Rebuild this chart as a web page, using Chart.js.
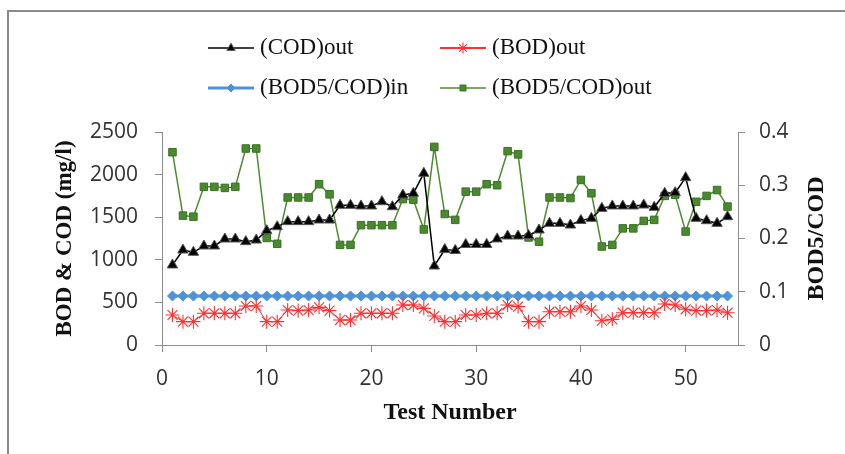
<!DOCTYPE html>
<html>
<head>
<meta charset="utf-8">
<script src="https://cdn.jsdelivr.net/npm/chart.js@4.4.1/dist/chart.umd.min.js"></script>
<style>
  html, body { margin: 0; padding: 0; background: #fff; }
  #wrap { width: 845px; height: 454px; }
</style>
</head>
<body>
<div id="wrap"><canvas id="grafica" width="845" height="454"></canvas></div>
<script>
// datos
const testNumber = [1, 2, 3, 4, 5, 6, 7, 8, 9, 10, 11, 12, 13, 14, 15, 16, 17, 18, 19, 20,
  21, 22, 23, 24, 25, 26, 27, 28, 29, 30, 31, 32, 33, 34, 35, 36, 37, 38, 39, 40,
  41, 42, 43, 44, 45, 46, 47, 48, 49, 50, 51, 52, 53, 54];

const codOut = [939, 1115, 1088, 1162, 1162, 1244, 1244, 1213, 1232, 1342, 1389, 1448, 1448, 1448, 1467, 1467, 1640, 1640, 1632, 1632,
  1682, 1623, 1760, 1780, 2015, 927, 1120, 1110, 1180, 1180, 1180, 1245, 1279, 1279, 1285, 1350, 1428, 1428, 1408, 1462,
  1487, 1604, 1632, 1632, 1632, 1643, 1616, 1780, 1787, 1964, 1487, 1459, 1428, 1506];

const bodOut = [352, 274, 274, 372, 372, 372, 372, 458, 458, 274, 274, 411, 404, 411, 442, 404, 293, 293, 372, 372,
  372, 372, 469, 469, 430, 340, 274, 274, 352, 352, 372, 372, 469, 450, 274, 274, 391, 391, 391, 458,
  411, 285, 301, 379, 379, 379, 379, 481, 469, 419, 404, 404, 411, 379];

const ratioIn = [0.092, 0.092, 0.092, 0.092, 0.092, 0.092, 0.092, 0.092, 0.092, 0.092, 0.092, 0.092, 0.092, 0.092, 0.092, 0.092, 0.092, 0.092, 0.092, 0.092,
  0.092, 0.092, 0.092, 0.092, 0.092, 0.092, 0.092, 0.092, 0.092, 0.092, 0.092, 0.092, 0.092, 0.092, 0.092, 0.092, 0.092, 0.092, 0.092, 0.092,
  0.092, 0.092, 0.092, 0.092, 0.092, 0.092, 0.092, 0.092, 0.092, 0.092, 0.092, 0.092, 0.092, 0.092];

const ratioOut = [0.362, 0.243, 0.241, 0.297, 0.297, 0.295, 0.297, 0.369, 0.369, 0.201, 0.19, 0.277, 0.277, 0.277, 0.302, 0.283, 0.188, 0.188, 0.225, 0.225,
  0.225, 0.225, 0.274, 0.273, 0.217, 0.372, 0.246, 0.235, 0.288, 0.288, 0.302, 0.3, 0.364, 0.358, 0.202, 0.194, 0.277, 0.277, 0.276, 0.31,
  0.285, 0.185, 0.188, 0.219, 0.219, 0.233, 0.235, 0.28, 0.282, 0.213, 0.269, 0.28, 0.291, 0.26];

const leftTicks = [0, 500, 1000, 1500, 2000, 2500];
const rightTicks = [0, 0.1, 0.2, 0.3, 0.4];
const xTicks = [0, 10, 20, 30, 40, 50];

const xy = (ys) => testNumber.map((t, i) => ({ x: t, y: ys[i] }));

const axisGray = '#8c8c8c';
const tickFont = { family: 'Open Sans', size: 21 };
const titleFont = { family: 'Liberation Serif', size: 24, weight: 'bold' };

const series = [
  { label: '(COD)out', data: xy(codOut), yAxisID: 'y', borderColor: '#000000', backgroundColor: '#000000',
    pointBorderColor: '#555555', pointStyle: 'triangle', pointRadius: 6, pointBorderWidth: 1, borderWidth: 1.5 },
  { label: '(BOD)out', data: xy(bodOut), yAxisID: 'y', borderColor: '#ff3030', backgroundColor: '#ff3030',
    pointStyle: 'star', pointRadius: 7, pointBorderWidth: 1.1, borderWidth: 1 },
  { label: '(BOD5/COD)in', data: xy(ratioIn), yAxisID: 'y1', borderColor: '#4f93d6', backgroundColor: '#4f93d6',
    pointStyle: 'rectRot', pointRadius: 5, pointBorderWidth: 1, borderWidth: 3 },
  { label: '(BOD5/COD)out', data: xy(ratioOut), yAxisID: 'y1', borderColor: '#4c8c30', backgroundColor: '#4a8a2e',
    pointBorderColor: '#3a7024', pointStyle: 'rect', pointRadius: 5.3, pointBorderWidth: 1, borderWidth: 1.5 }
];

// leyenda en dos filas y título del eje derecho (leído de abajo hacia arriba)
const legendPlugin = {
  id: 'leyenda',
  afterDraw(chart) {
    const ctx = chart.ctx;
    const spots = [[208, 48], [440, 48], [208, 88], [440, 88]];
    chart.data.datasets.forEach((ds, i) => {
      const [x, y] = spots[i];
      ctx.save();
      ctx.strokeStyle = ds.borderColor;
      ctx.lineWidth = ds.pointStyle === 'star' ? 2 : ds.borderWidth;
      ctx.beginPath();
      ctx.moveTo(x, y);
      ctx.lineTo(x + 46, y);
      ctx.stroke();
      ctx.fillStyle = ds.backgroundColor;
      ctx.strokeStyle = ds.pointBorderColor || ds.borderColor;
      ctx.lineWidth = ds.pointBorderWidth;
      Chart.helpers.drawPoint(ctx, { pointStyle: ds.pointStyle, radius: ds.pointRadius * 0.8, rotation: 0, borderWidth: ds.pointBorderWidth }, x + 23, y);
      ctx.fillStyle = '#111';
      ctx.font = '23px "Liberation Serif"';
      ctx.textBaseline = 'middle';
      ctx.textAlign = 'left';
      ctx.fillText(ds.label, x + 52, y);
      ctx.restore();
    });

    const area = chart.chartArea;
    ctx.save();
    ctx.translate(817, (area.top + area.bottom) / 2);
    ctx.rotate(-Math.PI / 2);
    ctx.fillStyle = '#111';
    ctx.font = 'bold 24px "Liberation Serif"';
    ctx.textAlign = 'center';
    ctx.textBaseline = 'middle';
    ctx.fillText('BOD5/COD', 0, 0);
    ctx.restore();
  }
};

const framePlugin = {
  id: 'marco',
  beforeDraw(chart) {
    const ctx = chart.ctx;
    ctx.save();
    ctx.fillStyle = '#fff';
    ctx.fillRect(0, 0, chart.width, chart.height);
    ctx.strokeStyle = '#8a8a8a';
    ctx.lineWidth = 2;
    ctx.beginPath();
    ctx.moveTo(8, chart.height);
    ctx.lineTo(8, 11);
    ctx.lineTo(chart.width, 11);
    ctx.stroke();
    ctx.restore();
  }
};

new Chart(document.getElementById('grafica'), {
  type: 'line',
  data: { datasets: series },
  options: {
    responsive: false,
    animation: false,
    devicePixelRatio: 1,
    layout: { padding: { top: 132, left: 0, right: 0, bottom: 0 } },
    plugins: { legend: { display: false }, tooltip: { enabled: false } },
    scales: {
      x: {
        type: 'linear', min: 0, max: 55,
        afterBuildTicks: s => { s.ticks = xTicks.map(v => ({ value: v })); },
        afterFit: s => { s.height = 109; },
        border: { color: axisGray, width: 1 },
        grid: { drawOnChartArea: false, color: axisGray, tickLength: 7 },
        ticks: { font: tickFont, color: '#333', padding: 14, maxRotation: 0, callback: v => String(v) },
        title: { display: true, text: 'Test Number', font: titleFont, color: '#111', padding: { top: 0, bottom: 27 } }
      },
      y: {
        position: 'left', min: 0, max: 2500,
        afterBuildTicks: s => { s.ticks = leftTicks.map(v => ({ value: v })); },
        afterFit: s => { s.width = 162; },
        border: { color: axisGray, width: 1 },
        grid: { drawOnChartArea: false, color: axisGray, tickLength: 7 },
        ticks: { font: tickFont, color: '#333', padding: 17, callback: v => String(v) },
        title: { display: true, text: 'BOD & COD (mg/l)', font: { family: 'Liberation Serif', size: 23, weight: 'bold' }, color: '#111', padding: { top: 51, bottom: 0 } }
      },
      y1: {
        position: 'right', min: 0, max: 0.4,
        afterBuildTicks: s => { s.ticks = rightTicks.map(v => ({ value: v })); },
        afterFit: s => { s.width = 107; },
        border: { color: axisGray, width: 1 },
        grid: { drawOnChartArea: false, color: axisGray, tickLength: 7 },
        ticks: { font: tickFont, color: '#333', padding: 14, callback: v => String(v) },
        title: { display: false }
      }
    }
  },
  plugins: [framePlugin, legendPlugin]
});
</script>
</body>
</html>
